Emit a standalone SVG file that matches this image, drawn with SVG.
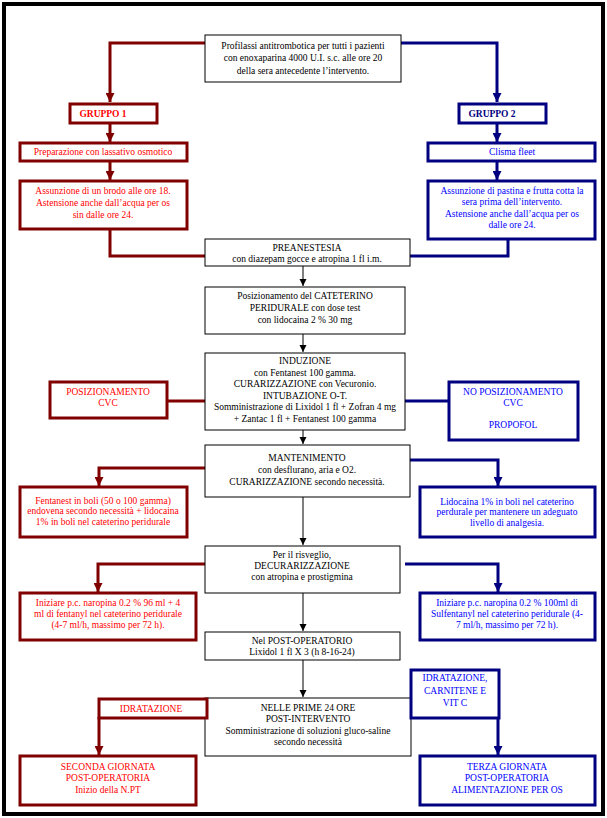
<svg xmlns="http://www.w3.org/2000/svg" width="607" height="818" viewBox="0 0 607 818">
<defs>
<style>
text{font-family:"Liberation Serif","Times New Roman",serif;font-size:9.5px;text-anchor:middle}
.k{fill:#000}
.r{fill:#ff0000}
.b{fill:#0000ff}
.bn{fill:#000080}
.bold{font-weight:bold}
.bx{fill:#fff;stroke:#000;stroke-width:1}
.rb{fill:#fff;stroke:#800000;stroke-width:3}
.bb{fill:#fff;stroke:#000080;stroke-width:3}
.rl{fill:none;stroke:#800000;stroke-width:3}
.bl{fill:none;stroke:#000080;stroke-width:3}
.kl{fill:none;stroke:#555;stroke-width:1.5}
</style>
<marker id="ar" viewBox="0 0 10 10" refX="10" refY="5" markerWidth="3" markerHeight="3" orient="auto" markerUnits="strokeWidth"><path d="M0,0L10,5L0,10z" fill="#800000"/></marker>
<marker id="ab" viewBox="0 0 10 10" refX="10" refY="5" markerWidth="3" markerHeight="3" orient="auto" markerUnits="strokeWidth"><path d="M0,0L10,5L0,10z" fill="#000080"/></marker>
<marker id="ak" viewBox="0 0 10 10" refX="10" refY="5" markerWidth="5" markerHeight="5" orient="auto" markerUnits="strokeWidth"><path d="M0,0L10,5L0,10z" fill="#000"/></marker>
</defs>
<rect x="0" y="0" width="607" height="818" fill="#fff"/>
<rect x="4" y="4" width="599" height="810" fill="none" stroke="#000" stroke-width="4"/>

<g id="connectors">
<path class="rl" d="M205,43H110V102" marker-end="url(#ar)"/>
<path class="bl" d="M401,43H497V102" marker-end="url(#ab)"/>
<path class="rl" d="M110,123V142" marker-end="url(#ar)"/>
<path class="bl" d="M497,123V142" marker-end="url(#ab)"/>
<path class="rl" d="M110,161V180" marker-end="url(#ar)"/>
<path class="bl" d="M497,161V180" marker-end="url(#ab)"/>
<path class="rl" d="M110,229V256H205"/>
<path class="bl" d="M508,239V256H405"/>
<path class="kl" d="M303,266V286" marker-end="url(#ak)"/>
<path class="kl" d="M303,334V352" marker-end="url(#ak)"/>
<path class="rl" d="M167,401H205"/>
<path class="bl" d="M405,401H449"/>
<path class="kl" d="M303,430V444" marker-end="url(#ak)"/>
<path class="rl" d="M205,468H99V486" marker-end="url(#ar)"/>
<path class="bl" d="M405,460H498V486" marker-end="url(#ab)"/>
<path class="kl" d="M303,497V545" marker-end="url(#ak)"/>
<path class="rl" d="M205,564H98V592" marker-end="url(#ar)"/>
<path class="bl" d="M405,564H498V592" marker-end="url(#ab)"/>
<path class="kl" d="M303,593V631" marker-end="url(#ak)"/>
<path class="kl" d="M303,660V697" marker-end="url(#ak)"/>
<path class="rl" d="M99,717V755" marker-end="url(#ar)"/>
<path class="bl" d="M498,718V755" marker-end="url(#ab)"/>
</g>

<g id="n-top">
<rect class="bx" x="205" y="35" width="196" height="47"/>
<text class="k" x="303" y="49">Profilassi antitrombotica per tutti i pazienti</text>
<text class="k" x="303" y="61">con enoxaparina 4000 U.I. s.c. alle ore 20</text>
<text class="k" x="303" y="74">della sera antecedente l’intervento.</text>
</g>

<g id="n-g1">
<rect class="rb" x="70" y="104" width="87" height="19"/>
<text class="r bold" x="103" y="117">GRUPPO 1</text>
</g>
<g id="n-g2">
<rect class="bb" x="459" y="104" width="87" height="19"/>
<text class="bn bold" x="492" y="117">GRUPPO 2</text>
</g>

<g id="n-prep1">
<rect class="rb" x="20" y="143" width="167" height="18"/>
<text class="r" x="103" y="155">Preparazione con lassativo osmotico</text>
</g>
<g id="n-prep2">
<rect class="bb" x="428" y="143" width="167" height="18"/>
<text class="b" x="512" y="155">Clisma fleet</text>
</g>

<g id="n-diet1">
<rect class="rb" x="20" y="181" width="167" height="48"/>
<text class="r" x="103" y="194">Assunzione di un brodo alle ore 18.</text>
<text class="r" x="103" y="206">Astensione anche dall’acqua per os</text>
<text class="r" x="103" y="218">sin dalle ore 24.</text>
</g>
<g id="n-diet2">
<rect class="bb" x="428" y="181" width="167" height="58"/>
<text class="b" x="512" y="194">Assunzione di pastina e frutta cotta la</text>
<text class="b" x="512" y="205">sera prima dell’intervento.</text>
<text class="b" x="512" y="217">Astensione anche dall’acqua per os</text>
<text class="b" x="512" y="228">dalle ore 24.</text>
</g>

<g id="n-pre">
<rect class="bx" x="205" y="239" width="205" height="27"/>
<text class="k" x="307" y="251">PREANESTESIA</text>
<text class="k" x="307" y="262">con diazepam gocce e atropina 1 fl i.m.</text>
</g>

<g id="n-cat">
<rect class="bx" x="205" y="287" width="200" height="47"/>
<text class="k" x="305" y="299">Posizionamento del CATETERINO</text>
<text class="k" x="305" y="311">PERIDURALE con dose test</text>
<text class="k" x="305" y="323">con lidocaina 2 % 30 mg</text>
</g>

<g id="n-ind">
<rect class="bx" x="205" y="353" width="200" height="77"/>
<text class="k" x="305" y="364">INDUZIONE</text>
<text class="k" x="305" y="376">con Fentanest 100 gamma.</text>
<text class="k" x="305" y="387">CURARIZZAZIONE  con Vecuronio.</text>
<text class="k" x="305" y="399">INTUBAZIONE O-T.</text>
<text class="k" x="305" y="410">Somministrazione di Lixidol 1 fl + Zofran 4 mg</text>
<text class="k" x="305" y="422">+ Zantac 1 fl  + Fentanest 100 gamma</text>
</g>

<g id="n-cvc1">
<rect class="rb" x="50" y="382" width="117" height="36"/>
<text class="r" x="108" y="395">POSIZIONAMENTO</text>
<text class="r" x="108" y="406">CVC</text>
</g>
<g id="n-cvc2">
<rect class="bb" x="449" y="382" width="129" height="58"/>
<text class="b" x="513" y="395">NO POSIZIONAMENTO</text>
<text class="b" x="513" y="406">CVC</text>
<text class="b" x="513" y="428">PROPOFOL</text>
</g>

<g id="n-man">
<rect class="bx" x="205" y="445" width="205" height="52"/>
<text class="k" x="307" y="461">MANTENIMENTO</text>
<text class="k" x="307" y="473">con  desflurano, aria e O2.</text>
<text class="k" x="307" y="485">CURARIZZAZIONE secondo necessità.</text>
</g>

<g id="n-man1">
<rect class="rb" x="20" y="487" width="167" height="50"/>
<text class="r" x="103" y="504">Fentanest in boli (50 o 100 gamma)</text>
<text class="r" x="103" y="514">endovena secondo necessità + lidocaina</text>
<text class="r" x="103" y="525">1% in boli nel cateterino peridurale</text>
</g>
<g id="n-man2">
<rect class="bb" x="420" y="487" width="175" height="50"/>
<text class="b" x="507" y="505">Lidocaina 1% in boli nel cateterino</text>
<text class="b" x="507" y="515">perdurale per mantenere un adeguato</text>
<text class="b" x="507" y="526">livello di analgesia.</text>
</g>

<g id="n-ris">
<rect class="bx" x="205" y="546" width="195" height="47"/>
<text class="k" x="302" y="558">Per il risveglio,</text>
<text class="k" x="302" y="569">DECURARIZZAZIONE</text>
<text class="k" x="302" y="580">con atropina e prostigmina</text>
</g>

<g id="n-ris1">
<rect class="rb" x="20" y="593" width="176" height="47"/>
<text class="r" x="108" y="606">Iniziare p.c. naropina 0.2 % 96 ml + 4</text>
<text class="r" x="108" y="617">ml di fentanyl nel cateterino peridurale</text>
<text class="r" x="108" y="628">(4-7 ml/h, massimo per 72 h).</text>
</g>
<g id="n-ris2">
<rect class="bb" x="420" y="593" width="175" height="47"/>
<text class="b" x="507" y="606">Iniziare p.c. naropina 0.2 % 100ml di</text>
<text class="b" x="507" y="617">Sulfentanyl nel cateterino peridurale (4-</text>
<text class="b" x="507" y="628">7 ml/h, massimo per 72 h).</text>
</g>

<g id="n-post">
<rect class="bx" x="205" y="632" width="195" height="28"/>
<text class="k" x="302" y="644">Nel POST-OPERATORIO</text>
<text class="k" x="302" y="655">Lixidol 1 fl X 3 (h 8-16-24)</text>
</g>

<g id="n-prime">
<rect class="bx" x="205" y="698" width="206" height="58"/>
<text class="k" x="308" y="711">NELLE PRIME 24 ORE</text>
<text class="k" x="308" y="722">POST-INTERVENTO</text>
<text class="k" x="308" y="734">Somministrazione di soluzioni gluco-saline</text>
<text class="k" x="308" y="745">secondo necessità</text>
</g>

<g id="n-idr1">
<rect class="rb" x="99" y="699" width="108" height="19"/>
<text class="r" x="151" y="712">IDRATAZIONE</text>
</g>
<g id="n-idr2">
<rect class="bb" x="411" y="670" width="88" height="48"/>
<text class="b" x="455" y="681">IDRATAZIONE,</text>
<text class="b" x="455" y="694">CARNITENE E</text>
<text class="b" x="455" y="706">VIT C</text>
</g>

<g id="n-sec">
<rect class="rb" x="20" y="756" width="176" height="49"/>
<text class="r" x="108" y="770">SECONDA GIORNATA</text>
<text class="r" x="108" y="781">POST-OPERATORIA</text>
<text class="r" x="108" y="793">Inizio della N.PT</text>
</g>
<g id="n-ter">
<rect class="bb" x="420" y="756" width="175" height="49"/>
<text class="b" x="507" y="770">TERZA GIORNATA</text>
<text class="b" x="507" y="781">POST-OPERATORIA</text>
<text class="b" x="507" y="793">ALIMENTAZIONE PER OS</text>
</g>
</svg>
